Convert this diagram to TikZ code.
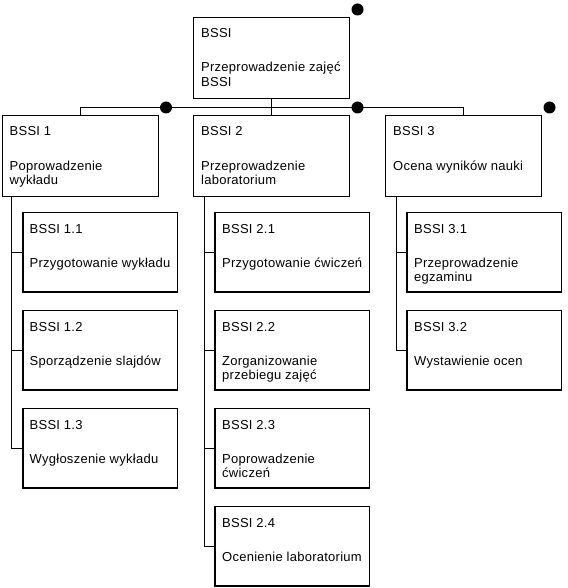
\documentclass[tikz,border=0pt]{standalone}
\usepackage{fontspec}
\setmainfont[LetterSpace=2]{Liberation Sans}
\newcommand\wbsnode[7]{%
  \node[#4] (#1) at (#2,#3) {};
  \node[txt] (#1-t) at ([shift={(8,21)}]#1.north west) {#5};
  \node[txt] (#1-a) at ([shift={(8,55)}]#1.north west) {#6};
  \node[txt] (#1-b) at ([shift={(8,69.6)}]#1.north west) {#7};
}
\begin{document}
\begin{tikzpicture}[x=1pt,y=-1pt,
  box/.style={draw,line width=1pt,rectangle,anchor=north west,inner sep=0pt,
    minimum width=156pt,minimum height=81pt},
  sub/.style={box,minimum width=155pt,minimum height=80pt,
    path picture={\draw[line width=3pt]
      (path picture bounding box.north west) --
      (path picture bounding box.south west) --
      (path picture bounding box.south east);}},
  txt/.style={anchor=base west,inner sep=0pt,font=\fontsize{13}{14.6}\selectfont},
  dot/.style={circle,fill,inner sep=0pt,minimum size=12pt},
  link/.style={line width=1pt}]
\useasboundingbox (0,0) rectangle (567,588);

% top levels
\wbsnode{root}{193}{17}{box}{BSSI}{Przeprowadzenie zajęć}{BSSI}
\wbsnode{b1}{1.5}{115}{box}{BSSI 1}{Poprowadzenie}{wykładu}
\wbsnode{b2}{193}{115}{box}{BSSI 2}{Przeprowadzenie}{laboratorium}
\wbsnode{b3}{385}{115}{box}{BSSI 3}{Ocena wyników nauki}{}

% children
\wbsnode{c11}{21.5}{212}{sub}{BSSI 1.1}{Przygotowanie wykładu}{}
\wbsnode{c12}{21.5}{310}{sub}{BSSI 1.2}{Sporządzenie slajdów}{}
\wbsnode{c13}{21.5}{408}{sub}{BSSI 1.3}{Wygłoszenie wykładu}{}
\wbsnode{c21}{214}{212}{sub}{BSSI 2.1}{Przygotowanie ćwiczeń}{}
\wbsnode{c22}{214}{310}{sub}{BSSI 2.2}{Zorganizowanie}{przebiegu zajęć}
\wbsnode{c23}{214}{408}{sub}{BSSI 2.3}{Poprowadzenie}{ćwiczeń}
\wbsnode{c24}{214}{506}{sub}{BSSI 2.4}{Ocenienie laboratorium}{}
\wbsnode{c31}{406}{212}{sub}{BSSI 3.1}{Przeprowadzenie}{egzaminu}
\wbsnode{c32}{406}{310}{sub}{BSSI 3.2}{Wystawienie ocen}{}

% dots
\node[dot] (d0) at ([shift={(7.5,-7.5)}]root.north east) {};
\node[dot] (d1) at ([shift={(7.5,-7.5)}]b1.north east) {};
\node[dot] (d2) at ([shift={(7.5,-7.5)}]b2.north east) {};
\node[dot] (d3) at ([shift={(7.5,-7.5)}]b3.north east) {};

% connectors
\coordinate (hl) at (0,107.5);
\draw[link] (root.south) -- (b2.north);
\draw[link] (b1.north) |- (b3.north |- hl) -- (b3.north);

\coordinate (s1) at ([xshift=10pt]b1.south west);
\coordinate (s2) at ([xshift=11pt]b2.south west);
\coordinate (s3) at ([xshift=11pt]b3.south west);
\draw[link] (s1) |- (c11.west);
\draw[link] (s1) |- (c12.west);
\draw[link] (s1) |- (c13.west);
\draw[link] (s2) |- (c21.west);
\draw[link] (s2) |- (c22.west);
\draw[link] (s2) |- (c23.west);
\draw[link] (s2) |- (c24.west);
\draw[link] (s3) |- (c31.west);
\draw[link] (s3) |- (c32.west);
\end{tikzpicture}
\end{document}
